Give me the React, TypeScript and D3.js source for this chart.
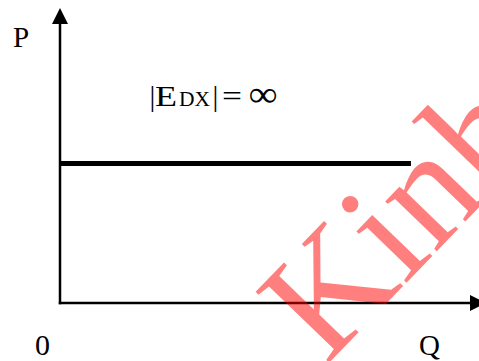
import React from "react";
import * as d3 from "d3";

const W = 479;
const H = 361;

// Schematic demand: perfectly elastic (horizontal) demand curve
const qDomain = [0, 100];
const pDomain = [0, 100];
const demandQ = [0, 85.6];
const demandP = [50, 50];
const axisLabels = { p: "P", q: "Q", origin: "0" };
const watermarkText = "Kinh";

export default function App() {
  const x = d3.scaleLinear().domain(qDomain).range([60, 470]);
  const y = d3.scaleLinear().domain(pDomain).range([303, 24]);

  const line = d3
    .line<number>()
    .x((_, i) => x(demandQ[i]))
    .y((_, i) => y(demandP[i]));

  const x0 = x(qDomain[0]);
  const y0 = y(pDomain[0]);
  const xTop = x(qDomain[1]);
  const yTop = y(pDomain[1]);

  const serif = "'Liberation Serif', 'Times New Roman', serif";

  return (
    <svg
      width={W}
      height={H}
      style={{ position: "absolute", left: 0, top: 0, background: "#fff" }}
    >
      {/* axes */}
      <line x1={x0} y1={y0 + 1.2} x2={x0} y2={yTop} stroke="#000" strokeWidth={2.5} />
      <path d={`M${x0},${yTop - 16} L${x0 - 8},${yTop} L${x0 + 8},${yTop} Z`} fill="#000" />
      <line x1={x0 - 1.2} y1={y0} x2={xTop} y2={y0} stroke="#000" strokeWidth={2.5} />
      <path d={`M${xTop + 16},${y0} L${xTop},${y0 - 8} L${xTop},${y0 + 8} Z`} fill="#000" />

      {/* demand line */}
      <path d={line(demandQ) || ""} stroke="#000" strokeWidth={5} fill="none" />

      {/* labels */}
      <text x={13} y={47} fontFamily={serif} fontSize={29} fill="#000">
        {axisLabels.p}
      </text>
      <text x={35} y={355} fontFamily={serif} fontSize={30} fill="#000">
        {axisLabels.origin}
      </text>
      <text x={419} y={355} fontFamily={serif} fontSize={29} fill="#000">
        {axisLabels.q}
      </text>

      <g fontFamily={serif} fill="#000">
        <text x={149.5} y={106} fontSize={29}>|</text>
        <text x={155} y={106} fontSize={30} textLength={22} lengthAdjust="spacingAndGlyphs">E</text>
        <text x={179} y={106} fontSize={20} textLength={31} lengthAdjust="spacingAndGlyphs">DX</text>
        <text x={212.5} y={106} fontSize={29}>|</text>
        <text x={222} y={106} fontSize={30} textLength={20} lengthAdjust="spacingAndGlyphs">=</text>
        <text x={248.5} y={106} fontSize={36} textLength={29} lengthAdjust="spacingAndGlyphs">∞</text>
      </g>

      {/* watermark */}
      <text
        x={0}
        y={0}
        transform={`translate(326,366) rotate(-46)`}
        fontFamily={serif}
        fontSize={156}
        fill="rgb(255,0,0)"
        fillOpacity={0.5}
      >
        {watermarkText}
      </text>
    </svg>
  );
}
